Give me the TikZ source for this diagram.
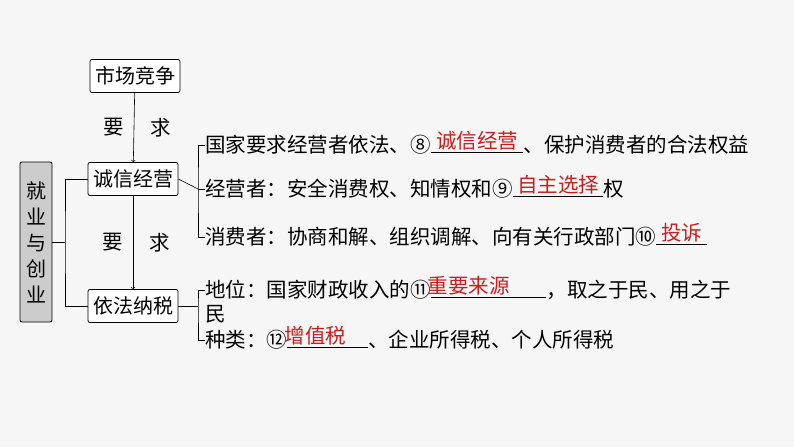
\documentclass[tikz,border=0pt]{standalone}
\usepackage{fontspec}
\setmainfont{Noto Sans CJK SC}
\usetikzlibrary{positioning}
\definecolor{bg}{RGB}{246,246,246}
\definecolor{ans}{RGB}{200,30,30}
\tikzset{
	box/.style={draw, rounded corners=2pt, thick, fill=white, minimum height=33pt, inner xsep=5pt, font=\fontsize{20}{20}\selectfont},
	txt/.style={inner sep=0pt, anchor=west, font=\fontsize{20.5}{20.5}\selectfont},
	gap/.style={inner sep=0pt, minimum height=20pt, minimum width=#1},
	red/.style={text=ans, inner sep=0pt, font=\fontsize{20.5}{20.5}\selectfont},
	con/.style={draw, semithick}
}
\begin{document}
\begin{tikzpicture}[x=1pt,y=-1pt]
	\fill[bg] (0,0) rectangle (794,447);
	% Kaesten
	\node[box, fill=gray!40, minimum width=32pt, minimum height=160pt, inner xsep=0pt, align=center] (main) at (36,242) {就\\[6pt]业\\[6pt]与\\[6pt]创\\[6pt]业};
	\node[box] (markt) at (135,76) {市场竞争};
	\node[box] (honest) at (133,179) {诚信经营};
	\node[box] (tax) at (133,306) {依法纳税};
	% Pfeile
	\draw[semithick, ->] (markt) -- (honest) node[midway, left=10pt, txt, anchor=east] {要} node[midway, right=16pt, txt, anchor=west] {求};
	\draw[semithick, ->] (honest) -- (tax) node[midway, left=10pt, txt, anchor=east] {要} node[midway, right=16pt, txt, anchor=west] {求};
	% Klammer links
	\coordinate (jl) at (65,242);
	\draw[semithick] (main.east) -- (jl);
	\draw[semithick] (honest.west) -| (jl) |- (tax.west);
	% Zeile 1-3
	\node[txt] (l1) at (205,145) {国家要求经营者依法、⑧};
	\node[gap=92pt, right=0pt of l1] (b1) {};
	\node[red, above=-16pt of b1] {诚信经营};
	\node[txt, right=0pt of b1] {、保护消费者的合法权益};
	\node[txt] (l2) at (205,189) {经营者：安全消费权、知情权和⑨};
	\node[gap=90pt, right=0pt of l2] (b2) {};
	\node[red, above=-16pt of b2] {自主选择};
	\node[txt, right=0pt of b2] {权};
	\node[txt] (l3) at (205,237) {消费者：协商和解、组织调解、向有关行政部门⑩};
	\node[gap=50pt, right=0pt of l3] (b3) {};
	\node[red, above=-16pt of b3] {投诉};
	\foreach \b in {b1,b2,b3}
		\draw[thin] ([yshift=3pt]\b.south west) -- ([yshift=3pt]\b.south east);
	\coordinate (hk) at (198,189);
	\draw[semithick] (honest.east) -- (hk);
	\draw[semithick] (l1.west) -| (hk) |- (l3.west);
	\draw[semithick] (hk) -- (l2.west);
	% Zeile 4-5
	\node[txt] (l4) at (205,290) {地位：国家财政收入的⑪};
	\node[gap=115pt, right=0pt of l4] (b4) {};
	\node[red, above=-16pt of b4, xshift=-20pt] {重要来源};
	\node[txt, right=0pt of b4] {，取之于民、用之于};
	\node[txt] (l4b) at (205,314) {民};
	\node[txt] (l5) at (205,340) {种类：⑫};
	\node[gap=80pt, right=0pt of l5] (b5) {};
	\node[red, above=-16pt of b5, xshift=-12pt] {增值税};
	\node[txt, right=0pt of b5] {、企业所得税、个人所得税};
	\foreach \b in {b4,b5}
		\draw[thin] ([yshift=3pt]\b.south west) -- ([yshift=3pt]\b.south east);
	\coordinate (hs) at (198,306);
	\draw[semithick] (tax.east) -- (hs);
	\draw[semithick] (l4.west) -| (hs) |- (l5.west);
\end{tikzpicture}
\end{document}
